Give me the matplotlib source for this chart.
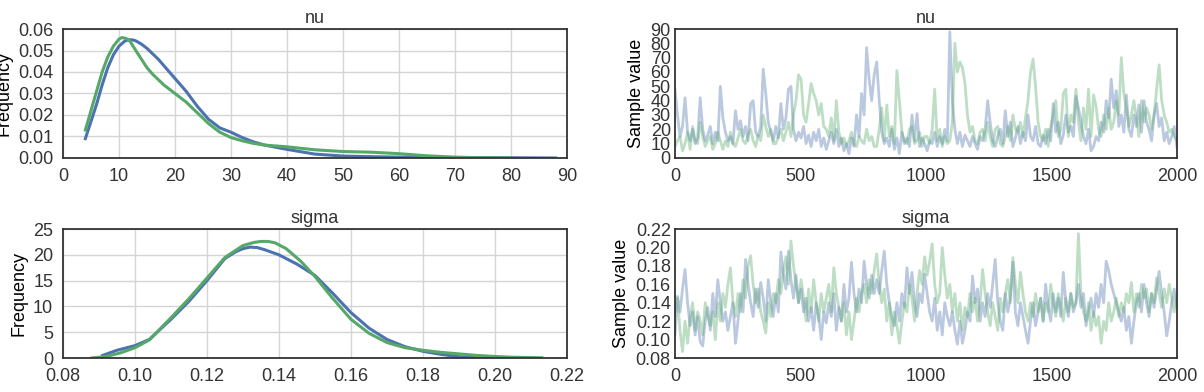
import matplotlib
matplotlib.use("Agg")
import matplotlib.pyplot as plt
import numpy as np

plt.rcParams['font.family'] = ['Liberation Sans', 'DejaVu Sans']

BLUE = '#4C72B0'
GREEN = '#55A868'

# posterior density curves
nu_kde_x_blue = [4, 5, 6, 7, 8, 9, 10, 11, 11.5, 12, 12.5, 13, 14, 15, 16, 17, 18, 20, 22, 24, 26, 28,
                 30, 32, 34, 36, 40, 45, 50, 55, 60, 65, 70, 80, 88]
nu_kde_y_blue = [0.009, 0.017, 0.025, 0.034, 0.042, 0.048, 0.052, 0.0543, 0.0548, 0.055, 0.0549, 0.0545,
                 0.053, 0.051, 0.0485, 0.046, 0.043, 0.037, 0.031, 0.024, 0.018, 0.014, 0.012, 0.0095,
                 0.0075, 0.006, 0.004, 0.0018, 0.0009, 0.0006, 0.0004, 0.0003, 0.0002, 0.0001, 0.0]
nu_kde_x_green = [4, 5, 6, 7, 8, 9, 10, 10.5, 11, 11.5, 12, 13, 14, 15, 16, 18, 20, 22, 24, 26, 28, 30,
                  32, 34, 36, 40, 45, 50, 55, 60, 65, 70, 75, 80]
nu_kde_y_green = [0.013, 0.022, 0.031, 0.040, 0.047, 0.052, 0.0553, 0.056, 0.0558, 0.0553, 0.0542, 0.050,
                  0.046, 0.042, 0.039, 0.034, 0.030, 0.026, 0.021, 0.016, 0.012, 0.0095, 0.008, 0.0068,
                  0.006, 0.0052, 0.0038, 0.003, 0.0027, 0.002, 0.001, 0.0004, 0.0001, 0.0]

sigma_kde_x_blue = [0.091, 0.095, 0.100, 0.104, 0.110, 0.115, 0.120, 0.125, 0.128, 0.130, 0.132, 0.134,
                    0.136, 0.140, 0.145, 0.150, 0.155, 0.160, 0.165, 0.170, 0.175, 0.180, 0.185, 0.190,
                    0.195, 0.200]
sigma_kde_y_blue = [0.5, 1.5, 2.4, 3.6, 7.5, 11.0, 15.0, 19.3, 20.6, 21.2, 21.5, 21.4, 21.0, 20.0, 18.2,
                    16.0, 12.5, 8.8, 5.8, 3.6, 2.2, 1.3, 0.7, 0.25, 0.06, 0.0]
sigma_kde_x_green = [0.088, 0.092, 0.096, 0.100, 0.104, 0.110, 0.115, 0.120, 0.125, 0.130, 0.133, 0.135,
                     0.137, 0.139, 0.142, 0.146, 0.150, 0.155, 0.160, 0.165, 0.170, 0.175, 0.180, 0.185,
                     0.190, 0.195, 0.200, 0.205, 0.213]
sigma_kde_y_green = [0.0, 0.3, 1.0, 2.0, 3.5, 7.8, 11.5, 15.5, 19.5, 21.8, 22.4, 22.6, 22.6, 22.3, 21.2,
                     18.8, 15.8, 11.5, 7.5, 4.8, 3.0, 2.0, 1.5, 1.1, 0.8, 0.5, 0.3, 0.15, 0.05]

# traces, one value every 10 samples
nu_trace_blue = [
    48, 30, 15, 22, 42, 18, 12, 20, 10, 14, 42, 20, 12, 16, 22, 10, 18, 12, 50, 28,
    18, 12, 15, 10, 33, 20, 26, 15, 22, 12, 38, 40, 18, 15, 22, 62, 45, 25, 18, 12,
    22, 14, 38, 20, 28, 48, 50, 20, 12, 18, 14, 22, 10, 16, 8, 18, 12, 20, 8, 14,
    6, 12, 18, 10, 20, 8, 14, 5, 10, 3, 14, 8, 30, 15, 45, 30, 77, 55, 40, 58,
    67, 40, 18, 10, 14, 8, 20, 6, 14, 3, 18, 10, 14, 8, 30, 12, 31, 8, 14, 10,
    5, 12, 10, 18, 8, 15, 10, 20, 12, 88, 40, 20, 10, 18, 8, 16, 12, 8, 15, 10,
    6, 15, 12, 20, 40, 25, 12, 8, 15, 20, 10, 33, 15, 25, 8, 14, 22, 10, 18, 12,
    30, 15, 12, 22, 10, 8, 16, 10, 20, 12, 38, 18, 25, 10, 16, 30, 18, 22, 15, 43,
    35, 25, 15, 10, 20, 5, 8, 15, 12, 25, 18, 40, 28, 55, 35, 47, 22, 30, 18, 44,
    20, 15, 30, 22, 37, 18, 40, 25, 20, 12, 30, 38, 22, 28, 12, 18, 10, 15, 22, 8]
nu_trace_green = [
    8, 12, 15, 5, 10, 18, 6, 22, 12, 10, 25, 15, 8, 12, 15, 6, 10, 18, 12, 6,
    12, 8, 18, 10, 8, 14, 20, 12, 10, 16, 20, 12, 8, 16, 12, 30, 22, 15, 20, 10,
    10, 15, 20, 12, 18, 25, 15, 30, 40, 58, 55, 30, 25, 38, 52, 45, 40, 30, 38, 22,
    20, 15, 28, 12, 40, 18, 10, 14, 8, 12, 18, 10, 8, 15, 12, 10, 20, 12, 15, 8,
    8, 20, 35, 12, 37, 15, 22, 10, 61, 40, 18, 12, 10, 20, 22, 10, 12, 18, 8, 15,
    15, 10, 20, 48, 12, 20, 8, 15, 10, 12, 25, 80, 60, 67, 63, 52, 30, 18, 22, 12,
    10, 18, 20, 12, 25, 15, 8, 20, 22, 10, 8, 15, 22, 12, 30, 20, 18, 25, 15, 28,
    40, 60, 69, 50, 25, 15, 12, 20, 8, 22, 30, 40, 15, 20, 45, 48, 15, 30, 25, 48,
    25, 12, 35, 20, 48, 15, 44, 36, 20, 15, 30, 20, 35, 20, 25, 40, 30, 70, 45, 35,
    22, 30, 40, 28, 15, 40, 25, 35, 30, 20, 30, 48, 65, 40, 30, 25, 18, 20, 15, 12]
sigma_trace_blue = [
    0.105, 0.147, 0.13, 0.155, 0.176, 0.14, 0.115, 0.13, 0.105, 0.125, 0.098, 0.093, 0.12, 0.135, 0.11,
    0.15, 0.125, 0.165, 0.14, 0.12,
    0.13, 0.11, 0.125, 0.14, 0.096, 0.12, 0.15, 0.13, 0.187, 0.16, 0.14, 0.125, 0.155, 0.135, 0.162,
    0.145, 0.12, 0.165, 0.14, 0.125,
    0.15, 0.13, 0.195, 0.17, 0.155, 0.196, 0.165, 0.145, 0.17, 0.14, 0.155, 0.13, 0.145, 0.12, 0.135,
    0.11, 0.14, 0.125, 0.10, 0.13,
    0.118, 0.14, 0.125, 0.15, 0.11, 0.135, 0.12, 0.16, 0.13, 0.145, 0.184, 0.15, 0.13, 0.155, 0.14,
    0.185, 0.16, 0.145, 0.17, 0.15,
    0.165, 0.15, 0.175, 0.196, 0.16, 0.14, 0.125, 0.115, 0.14, 0.12, 0.15, 0.135, 0.178, 0.15, 0.173,
    0.14, 0.125, 0.15, 0.14, 0.171,
    0.15, 0.13, 0.12, 0.145, 0.11, 0.13, 0.105, 0.14, 0.125, 0.115, 0.13, 0.11, 0.095, 0.12, 0.096,
    0.11, 0.13, 0.12, 0.169, 0.14,
    0.155, 0.12, 0.14, 0.125, 0.15, 0.135, 0.16, 0.187, 0.14, 0.12, 0.11, 0.15, 0.13, 0.145, 0.184,
    0.13, 0.115, 0.14, 0.125, 0.11,
    0.096, 0.12, 0.14, 0.115, 0.13, 0.145, 0.12, 0.16, 0.135, 0.12, 0.15, 0.13, 0.145, 0.125, 0.173,
    0.14, 0.125, 0.15, 0.13, 0.14,
    0.16, 0.135, 0.15, 0.115, 0.13, 0.145, 0.125, 0.15, 0.135, 0.16, 0.14, 0.185, 0.175, 0.16, 0.15,
    0.14, 0.13, 0.12, 0.135, 0.11,
    0.125, 0.096, 0.12, 0.14, 0.15, 0.13, 0.16, 0.14, 0.125, 0.15, 0.135, 0.155, 0.174, 0.15, 0.13,
    0.104, 0.12, 0.14, 0.155, 0.135]
sigma_trace_green = [
    0.13, 0.145, 0.11, 0.087, 0.12, 0.096, 0.125, 0.14, 0.11, 0.13, 0.12, 0.105, 0.14, 0.125, 0.115,
    0.13, 0.10, 0.14, 0.12, 0.15,
    0.135, 0.16, 0.178, 0.14, 0.125, 0.15, 0.13, 0.165, 0.145, 0.18, 0.191, 0.16, 0.14, 0.155, 0.13,
    0.12, 0.107, 0.14, 0.125, 0.15,
    0.14, 0.165, 0.15, 0.175, 0.19, 0.16, 0.207, 0.18, 0.16, 0.14, 0.165, 0.145, 0.12, 0.155, 0.13,
    0.165, 0.14, 0.12, 0.15, 0.13,
    0.145, 0.16, 0.13, 0.178, 0.15, 0.135, 0.12, 0.14, 0.105, 0.13, 0.10, 0.12, 0.145, 0.13, 0.15,
    0.16, 0.14, 0.165, 0.15, 0.175,
    0.193, 0.16, 0.14, 0.155, 0.12, 0.14, 0.105, 0.13, 0.115, 0.096, 0.12, 0.14, 0.13, 0.16, 0.145,
    0.12, 0.15, 0.175, 0.16, 0.19,
    0.17, 0.185, 0.204, 0.16, 0.14, 0.15, 0.20, 0.17, 0.145, 0.16, 0.13, 0.15, 0.12, 0.14, 0.11,
    0.135, 0.125, 0.15, 0.13, 0.145,
    0.12, 0.14, 0.176, 0.15, 0.13, 0.115, 0.14, 0.125, 0.11, 0.145, 0.13, 0.15, 0.165, 0.14, 0.189,
    0.16, 0.14, 0.173, 0.15, 0.13,
    0.12, 0.14, 0.125, 0.15, 0.13, 0.145, 0.12, 0.14, 0.13, 0.16, 0.14, 0.125, 0.15, 0.135, 0.12,
    0.145, 0.13, 0.15, 0.135, 0.14,
    0.215, 0.15, 0.13, 0.12, 0.14, 0.11, 0.13, 0.115, 0.125, 0.096, 0.12, 0.11, 0.14, 0.12, 0.13,
    0.145, 0.125, 0.14, 0.13, 0.15,
    0.14, 0.162, 0.13, 0.15, 0.135, 0.16, 0.145, 0.155, 0.13, 0.15, 0.14, 0.167, 0.15, 0.135, 0.155,
    0.14, 0.16, 0.145, 0.13, 0.15]
n_samples = 2000

FS = 13


def style_axes(ax, grid):
    for s in ax.spines.values():
        s.set_color('#333333')
        s.set_linewidth(1.3)
    ax.tick_params(length=0, labelsize=FS, pad=7, colors='#333333')
    if grid:
        ax.grid(True, color='#d5d5d5', lw=1)
        ax.set_axisbelow(True)


fig = plt.figure(figsize=(12.04, 3.92), dpi=100)
left_x, left_w = 0.0523, 0.4186
right_x, right_w = 0.5606, 0.417
top_y, top_h = 0.597, 0.329
bot_y, bot_h = 0.0867, 0.329

ax_nu = fig.add_axes((left_x, top_y, left_w, top_h))
ax_nu_tr = fig.add_axes((right_x, top_y, right_w, top_h))
ax_sig = fig.add_axes((left_x, bot_y, left_w, bot_h))
ax_sig_tr = fig.add_axes((right_x, bot_y, right_w, bot_h))

# density plots
ax_nu.plot(nu_kde_x_blue, nu_kde_y_blue, color=BLUE, lw=2.2)
ax_nu.plot(nu_kde_x_green, nu_kde_y_green, color=GREEN, lw=2.2)
ax_nu.set_xlim(0, 90)
ax_nu.set_ylim(0, 0.06)
ax_nu.set_xticks(np.arange(0, 91, 10))
ax_nu.set_yticks(np.arange(0, 0.061, 0.01))
ax_nu.set_yticklabels([f'{v:.2f}' for v in np.arange(0, 0.061, 0.01)])
ax_nu.set_ylabel('Frequency', fontsize=FS)
ax_nu.set_title('nu', fontsize=FS, pad=4, color='#333333')
style_axes(ax_nu, True)

ax_sig.plot(sigma_kde_x_blue, sigma_kde_y_blue, color=BLUE, lw=2.2)
ax_sig.plot(sigma_kde_x_green, sigma_kde_y_green, color=GREEN, lw=2.2)
ax_sig.set_xlim(0.08, 0.22)
ax_sig.set_ylim(0, 25)
ax_sig.set_xticks(np.arange(0.08, 0.221, 0.02))
ax_sig.set_xticklabels([f'{v:.2f}' for v in np.arange(0.08, 0.221, 0.02)])
ax_sig.set_yticks(np.arange(0, 26, 5))
ax_sig.set_ylabel('Frequency', fontsize=FS)
ax_sig.set_title('sigma', fontsize=FS, pad=4, color='#333333')
style_axes(ax_sig, True)

# trace plots
xs_nu = np.linspace(0, n_samples - 1, len(nu_trace_blue))
ax_nu_tr.plot(xs_nu, nu_trace_blue, color=BLUE, lw=2, alpha=0.38)
ax_nu_tr.plot(xs_nu, nu_trace_green, color=GREEN, lw=2, alpha=0.38)
ax_nu_tr.set_xlim(0, n_samples)
ax_nu_tr.set_ylim(0, 90)
ax_nu_tr.set_xticks(np.arange(0, 2001, 500))
ax_nu_tr.set_yticks(np.arange(0, 91, 10))
ax_nu_tr.set_ylabel('Sample value', fontsize=FS)
ax_nu_tr.set_title('nu', fontsize=FS, pad=4, color='#333333')
style_axes(ax_nu_tr, False)
ax_nu_tr.tick_params(axis='y', pad=3)

xs_sig = np.linspace(0, n_samples - 1, len(sigma_trace_blue))
ax_sig_tr.plot(xs_sig, sigma_trace_blue, color=BLUE, lw=2, alpha=0.38)
ax_sig_tr.plot(xs_sig, sigma_trace_green, color=GREEN, lw=2, alpha=0.38)
ax_sig_tr.set_xlim(0, n_samples)
ax_sig_tr.set_ylim(0.08, 0.22)
ax_sig_tr.set_xticks(np.arange(0, 2001, 500))
ax_sig_tr.set_yticks(np.arange(0.08, 0.221, 0.02))
ax_sig_tr.set_yticklabels([f'{v:.2f}' for v in np.arange(0.08, 0.221, 0.02)])
ax_sig_tr.set_ylabel('Sample value', fontsize=FS)
ax_sig_tr.set_title('sigma', fontsize=FS, pad=4, color='#333333')
style_axes(ax_sig_tr, False)
ax_sig_tr.tick_params(axis='y', pad=3)

fig.savefig('out.png', dpi=100)
